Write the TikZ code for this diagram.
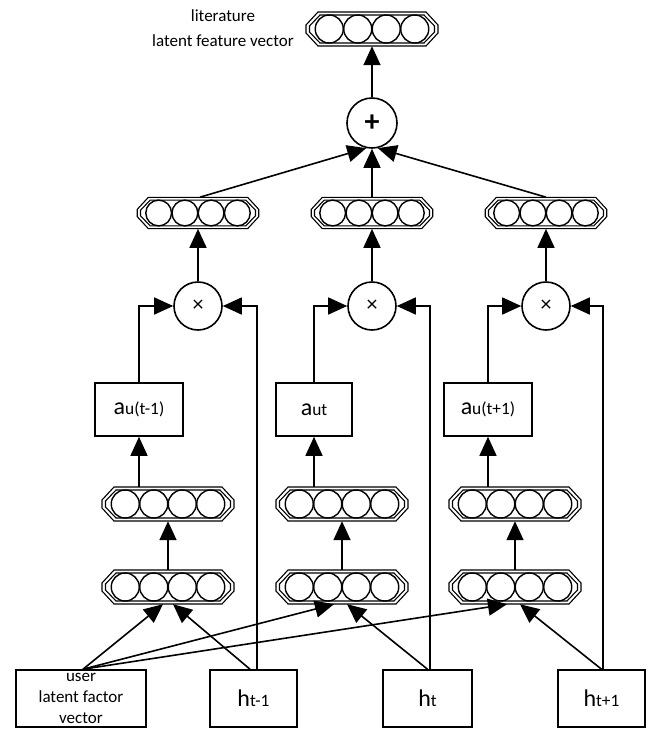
\documentclass[tikz,border=0pt]{standalone}
\usepackage{fontspec}
\setmainfont{Carlito}
\usetikzlibrary{arrows.meta}
\tikzset{
  ln/.style={line width=1.6pt},
  arr/.style={ln, -{Triangle[length=19pt,width=17pt]}},
  vecnode/.style={draw=none, inner sep=0pt, rectangle},
  oct/.style={line width=1.1pt},
  cir/.style={line width=1.4pt},
  opnode/.style={circle, draw, ln, inner sep=0pt},
  boxnode/.style={rectangle, draw, ln, inner sep=0pt, align=center},
  lbl/.style={font=\fontsize{17}{21}\selectfont, align=center}
}
\newcommand{\vecblk}[4]{%
  \node[vecnode, minimum width={#4*132pt}, minimum height={#4*34pt}] (#1) at (#2,#3) {};
  \begin{scope}[shift={(#2,#3)}, scale=#4]
    \draw[oct] (-54,-17) -- (54,-17) -- (66,-4) -- (66,4) -- (54,17) -- (-54,17) -- (-66,4) -- (-66,-4) -- cycle;
    \draw[oct] (-52,-14) -- (52,-14) -- (62.5,-3) -- (62.5,3) -- (52,14) -- (-52,14) -- (-62.5,3) -- (-62.5,-3) -- cycle;
    \foreach \i in {-42.75,-14.25,14.25,42.75} \draw[cir] (\i,0) circle (14);
  \end{scope}}
\newcommand{\bigtxt}[2]{{\fontsize{24}{24}\selectfont #1}{\fontsize{17.4}{17.4}\selectfont #2}}
\begin{document}
\begin{tikzpicture}[x=1pt,y=-1pt]
\useasboundingbox (0,0) rectangle (649,732);
% title
\node[lbl, font=\fontsize{17}{25}\selectfont] (title) at (223,28) {literature\\latent feature vector};
% top vector and plus
\vecblk{vT}{372}{29}{1}
\node[opnode, minimum size=50pt, font=\fontsize{30}{30}\selectfont\bfseries] (plus) at (372,123) {+};
% second row vectors
\vecblk{vA}{198}{213}{0.92}
\vecblk{vB}{372}{213}{0.92}
\vecblk{vC}{546}{213}{0.92}
% times
\node[opnode, minimum size=48pt, font=\fontsize{22}{22}\selectfont] (xA) at (198,306) {×};
\node[opnode, minimum size=48pt, font=\fontsize{22}{22}\selectfont] (xB) at (372,306) {×};
\node[opnode, minimum size=48pt, font=\fontsize{22}{22}\selectfont] (xC) at (546,306) {×};
% a boxes
\node[boxnode, minimum width=88pt, minimum height=53pt] (aA) at (139,409.5) {\bigtxt{a}{u(t-1)}};
\node[boxnode, minimum width=76pt, minimum height=53pt] (aB) at (314,409.5) {\bigtxt{a}{ut}};
\node[boxnode, minimum width=88pt, minimum height=53pt] (aC) at (488,409.5) {\bigtxt{a}{u(t+1)}};
% rows 3 and 4
\vecblk{rA}{168}{504}{1}
\vecblk{rB}{342}{504}{1}
\vecblk{rC}{515}{504}{1}
\vecblk{sA}{168}{587}{1}
\vecblk{sB}{342}{587}{1}
\vecblk{sC}{515}{587}{1}
% bottom boxes
\node[boxnode, minimum width=130pt, minimum height=57pt, font=\fontsize{17}{21}\selectfont] (user) at (81,698.5) {user\\latent factor\\vector};
\node[boxnode, minimum width=87pt, minimum height=57pt] (h1) at (253.5,698.5) {\bigtxt{h}{t-1}};
\node[boxnode, minimum width=89pt, minimum height=57pt] (h2) at (427.5,698.5) {\bigtxt{h}{t}};
\node[boxnode, minimum width=87pt, minimum height=57pt] (h3) at (601.5,698.5) {\bigtxt{h}{t+1}};
% connectors top
\draw[arr] (plus.north) -- (vT.south);
\draw[arr] ([xshift=2pt]vA.north) -- (plus.-103);
\draw[arr] (vB.north) -- (plus.south);
\draw[arr] (vC.north) -- (plus.-77);
\draw[arr] (xA.north) -- (vA.south);
\draw[arr] (xB.north) -- (vB.south);
\draw[arr] (xC.north) -- (vC.south);
% a -> times
\draw[arr] (aA.north) |- (xA.west);
\draw[arr] (aB.north) |- (xB.west);
\draw[arr] (aC.north) |- (xC.west);
% h -> times
\draw[arr] ([xshift=3.5pt]h1.north) |- (xA.east);
\draw[arr] ([xshift=2.5pt]h2.north) |- (xB.east);
\draw[arr] ([xshift=1.5pt]h3.north) |- (xC.east);
% vectors -> a
\draw[arr] (rA.north -| aA.south) -- (aA.south);
\draw[arr] (rB.north -| aB.south) -- (aB.south);
\draw[arr] (rC.north -| aC.south) -- (aC.south);
% row4 -> row3
\draw[arr] (sA.north) -- (rA.south);
\draw[arr] (sB.north) -- (rB.south);
\draw[arr] (sC.north) -- (rC.south);
% inputs -> row4
\draw[arr] ([xshift=2pt]user.north) -- ([xshift=-5pt]sA.south);
\draw[arr] ([xshift=-3.5pt]h1.north) -- ([xshift=5pt]sA.south);
\draw[arr] ([xshift=2pt]user.north) -- ([xshift=-8pt]sB.south);
\draw[arr] (h2.north) -- ([xshift=5pt]sB.south);
\draw[arr] ([xshift=2pt]user.north) -- ([xshift=-8pt]sC.south);
\draw[arr] (h3.north) -- ([xshift=5pt]sC.south);
\end{tikzpicture}
\end{document}
